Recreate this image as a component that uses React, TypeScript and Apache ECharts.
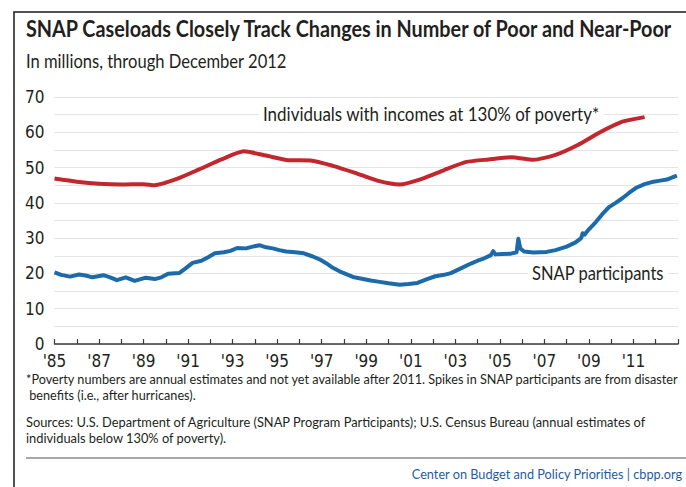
import React, { useEffect, useRef } from "react";
import * as echarts from "echarts";

const AXIS_FONT = "'Liberation Sans Narrow', 'DejaVu Sans Condensed', 'Roboto Condensed', 'Liberation Sans', sans-serif";
const TEXT_FONT = "Lato, 'Open Sans', sans-serif";

const titleText = "SNAP Caseloads Closely Track Changes in Number of Poor and Near-Poor";
const subtitleText = "In millions, through December 2012";
const povertyLabel = "Individuals with incomes at 130% of poverty*";
const snapLabel = "SNAP participants";
const footnoteLines = [
  "*Poverty numbers are annual estimates and not yet available after 2011. Spikes in SNAP participants are from disaster",
  " benefits (i.e., after hurricanes).",
];
const sourceLines = [
  "Sources: U.S. Department of Agriculture (SNAP Program Participants); U.S. Census Bureau (annual estimates of",
  "individuals below 130% of poverty).",
];
const creditText = "Center on Budget and Policy Priorities | cbpp.org";

const yearMin = 1985;
const yearMax = 2013;
const valueMax = 70;

const povertyTimes = [
  1985.0, 1986.0, 1987.0, 1988.0, 1989.0, 1989.5, 1990.5, 1991.5, 1992.5, 1993.5,
  1994.5, 1995.5, 1996.5, 1997.5, 1998.5, 1999.5, 2000.5, 2001.5, 2002.5, 2003.5,
  2004.5, 2005.5, 2006.5, 2007.5, 2008.5, 2009.5, 2010.5, 2011.5,
];
const povertyValues = [
  46.9, 46.0, 45.4, 45.2, 45.3, 45.0, 46.8, 49.5, 52.3, 54.6,
  53.4, 52.1, 52.0, 50.5, 48.5, 46.3, 45.2, 46.8, 49.3, 51.6,
  52.3, 52.9, 52.2, 53.6, 56.4, 60.0, 63.0, 64.3,
];

const snapTimes = [
  1985.0, 1985.3, 1985.7, 1986.1, 1986.4, 1986.7, 1987.2, 1987.5, 1987.8, 1988.2,
  1988.6, 1989.1, 1989.5, 1989.8, 1990.1, 1990.6, 1990.9, 1991.2, 1991.6, 1991.9,
  1992.2, 1992.6, 1992.9, 1993.2, 1993.6, 1993.9, 1994.2, 1994.5, 1994.8, 1995.1,
  1995.4, 1995.8, 1996.2, 1996.6, 1996.9, 1997.2, 1997.5, 1997.8, 1998.1, 1998.4,
  1998.8, 1999.2, 1999.6, 2000.0, 2000.5, 2000.9, 2001.3, 2001.7, 2002.1, 2002.5,
  2002.8, 2003.2, 2003.7, 2004.0, 2004.3, 2004.6, 2004.7, 2004.8, 2005.1, 2005.5,
  2005.75, 2005.83, 2005.92, 2006.1, 2006.5, 2007.1, 2007.5, 2008.0, 2008.4, 2008.65,
  2008.72, 2008.8, 2009.0, 2009.3, 2009.6, 2009.9, 2010.2, 2010.5, 2010.8, 2011.1,
  2011.5, 2011.9, 2012.2, 2012.5, 2012.75, 2012.95,
];
const snapValues = [
  20.3, 19.6, 19.1, 19.7, 19.4, 18.9, 19.5, 18.9, 18.1, 18.9,
  17.9, 18.8, 18.4, 18.9, 19.9, 20.1, 21.5, 23.0, 23.6, 24.6,
  25.7, 26.0, 26.4, 27.2, 27.1, 27.6, 28.0, 27.4, 27.1, 26.6,
  26.2, 26.0, 25.7, 24.8, 24.0, 22.9, 21.6, 20.6, 19.8, 19.0,
  18.5, 18.0, 17.6, 17.2, 16.8, 17.0, 17.3, 18.3, 19.2, 19.6,
  20.1, 21.3, 22.8, 23.6, 24.3, 25.2, 26.3, 25.4, 25.5, 25.6,
  26.0, 29.8, 27.0, 26.2, 25.9, 26.1, 26.6, 27.6, 28.8, 30.0,
  31.4, 31.0, 32.5, 34.5, 36.8, 38.8, 40.0, 41.3, 42.8, 44.2,
  45.3, 46.0, 46.3, 46.6, 47.2, 47.7,
];

const pairs = (xs: number[], ys: number[]) => xs.map((x, i) => [x, ys[i]]);

let measureCtx: CanvasRenderingContext2D | null = null;
function fitScale(text: string, font: string, target: number): number {
  if (!measureCtx) measureCtx = document.createElement("canvas").getContext("2d");
  if (!measureCtx) return 1;
  measureCtx.font = font;
  const w = measureCtx.measureText(text).width;
  return w > 0 ? target / w : 1;
}

export default function App() {
  const ref = useRef<HTMLDivElement | null>(null);
  useEffect(() => {
    if (!ref.current) return;
    const chart = echarts.init(ref.current, null, { renderer: "svg" });
    const textColor = "#231f20";

    const titleFont = `bold 23px ${TEXT_FONT}`;
    const subFont = `18.5px ${TEXT_FONT}`;
    const labelFont = `20px ${TEXT_FONT}`;
    const noteFont = `13px ${TEXT_FONT}`;
    const creditFont = `13.5px ${TEXT_FONT}`;

    const titleScale = fitScale(titleText, titleFont, 648);
    const subScale = fitScale(subtitleText, subFont, 261);
    const povScale = fitScale(povertyLabel, labelFont, 337);
    const snapScale = fitScale(snapLabel, labelFont, 132);
    const noteScale = fitScale(footnoteLines[0], noteFont, 654);
    const srcScale = fitScale(sourceLines[0], noteFont, 621);
    const creditScale = fitScale(creditText, creditFont, 271);

    const txt = (text: string, x: number, y: number, font: string, sx: number, extra: any = {}) => ({
      type: "text",
      x,
      y,
      z: 5,
      scaleX: sx,
      style: { text, font, fill: textColor, textVerticalAlign: "middle", ...extra },
    });
    const mask = (x: number, y: number, w: number, h: number) => ({
      type: "rect",
      z: 4,
      silent: true,
      shape: { x, y, width: w, height: h },
      style: { fill: "#ffffff" },
    });

    chart.setOption({
      animation: false,
      backgroundColor: "#ffffff",
      grid: { left: 54.5, right: 8, top: 97, bottom: 143, containLabel: false },
      xAxis: {
        type: "value",
        min: yearMin,
        max: yearMax,
        interval: 1,
        axisLine: { lineStyle: { color: "#3a3a3a", width: 1.5 } },
        axisTick: { show: true, inside: true, length: 5, lineStyle: { color: "#3a3a3a", width: 1.2 } },
        splitLine: { show: false },
        axisLabel: {
          color: textColor,
          fontFamily: AXIS_FONT,
          fontSize: 17,
          margin: 8,
          showMinLabel: true,
          showMaxLabel: true,
          formatter: (v: number) => (v % 2 === 1 && v < yearMax ? "'" + String(v).slice(2) : ""),
        },
      },
      yAxis: {
        type: "value",
        min: 0,
        max: valueMax,
        interval: 5,
        axisLine: { show: false },
        axisTick: { show: false },
        splitLine: { lineStyle: { color: "#e4e4e4", width: 1 } },
        axisLabel: {
          color: textColor,
          fontFamily: AXIS_FONT,
          fontSize: 17,
          margin: 10,
          formatter: (v: number) => (v % 10 === 0 ? String(v) : ""),
        },
      },
      series: [
        {
          name: "Individuals with incomes at 130% of poverty",
          type: "line",
          data: pairs(povertyTimes, povertyValues),
          showSymbol: false,
          smooth: 0.2,
          lineStyle: { color: "#c1272d", width: 4 },
          itemStyle: { color: "#c1272d" },
          z: 3,
        },
        {
          name: "SNAP participants",
          type: "line",
          data: pairs(snapTimes, snapValues),
          showSymbol: false,
          lineStyle: { color: "#1d6aab", width: 4, join: "round" },
          itemStyle: { color: "#1d6aab" },
          z: 3,
        },
      ],
      graphic: [
        {
          type: "rect",
          z: 5,
          shape: { x: 14, y: 12, width: 720, height: 520 },
          style: { fill: "none", stroke: "#1a1a1a", lineWidth: 1.5 },
          silent: true,
        },
        txt(titleText, 26, 28, titleFont, titleScale),
        txt(subtitleText, 26, 61, subFont, subScale),
        mask(259, 103, 345, 21),
        txt(povertyLabel, 263, 113, labelFont, povScale),
        mask(528, 261, 140, 22),
        txt(snapLabel, 532, 272, labelFont, snapScale),
        ...footnoteLines.map((t, i) => txt(t, 26, 379 + i * 16, noteFont, noteScale)),
        ...sourceLines.map((t, i) => txt(t, 26, 422 + i * 16, noteFont, srcScale)),
        {
          type: "line",
          z: 5,
          shape: { x1: 26, y1: 458, x2: 686, y2: 458 },
          style: { stroke: "#8a8a8a", lineWidth: 1.5 },
        },
        txt(creditText, 682, 474, creditFont, creditScale, { fill: "#1f5c9e", textAlign: "right" }),
      ],
    });
    return () => chart.dispose();
  }, []);
  return (
    <div
      ref={ref}
      style={{ position: "fixed", left: 0, top: 0, width: 686, height: 487, background: "#fff" }}
    />
  );
}
